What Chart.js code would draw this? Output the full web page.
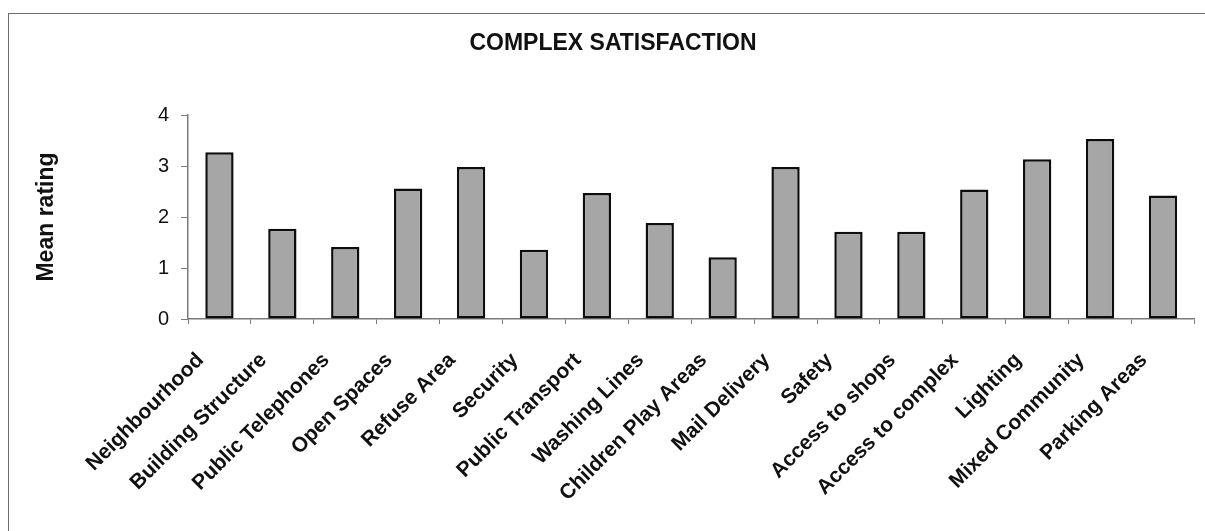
<!DOCTYPE html>
<html>
<head>
<meta charset="utf-8">
<title>Complex Satisfaction</title>
<script src="https://cdn.jsdelivr.net/npm/chart.js@4/dist/chart.umd.min.js"></script>
<style>
  html, body { margin: 0; padding: 0; background: #ffffff; }
  #wrap { position: relative; width: 1205px; height: 531px; overflow: hidden; }
  #frame {
    position: absolute; left: 8px; top: 13px; right: -4px; bottom: -4px;
    border-left: 1.5px solid #6e6e6e; border-top: 1.5px solid #6e6e6e;
  }
  canvas { position: absolute; left: 0; top: 0; }
</style>
</head>
<body>
<div id="wrap">
  <div id="frame"></div>
  <canvas id="chart" width="1205" height="531"></canvas>
</div>
<script>
// Satisfaction items around the housing complex
const categories = [
  'Neighbourhood', 'Building Structure', 'Public Telephones', 'Open Spaces',
  'Refuse Area', 'Security', 'Public Transport', 'Washing Lines',
  'Children Play Areas', 'Mail Delivery', 'Safety', 'Access to shops',
  'Access to complex', 'Lighting', 'Mixed Community', 'Parking Areas'
];

// Mean rating per item
const meanRatings = [
  3.27, 1.77, 1.41, 2.56,
  2.98, 1.36, 2.47, 1.88,
  1.21, 2.98, 1.71, 1.71,
  2.54, 3.13, 3.53, 2.42
];

// Value axis ticks
const yTicks = [0, 1, 2, 3, 4];

const chartTitle = 'COMPLEX SATISFACTION';

const FONT = '"Liberation Sans", Arial, Helvetica, sans-serif';
const INK = '#111111';
const AXIS = '#7a7a7a';

// Heading centred over the framed area rather than the canvas
const headingPlugin = {
  id: 'heading',
  afterDraw(chart) {
    const ctx = chart.ctx;
    ctx.save();
    ctx.fillStyle = INK;
    ctx.font = 'bold 23px ' + FONT;
    ctx.textAlign = 'center';
    ctx.textBaseline = 'middle';
    ctx.fillText(chartTitle, 613, 44);
    ctx.restore();
  }
};

new Chart(document.getElementById('chart'), {
  type: 'bar',
  data: {
    labels: categories,
    datasets: [{
      label: 'Mean rating',
      data: meanRatings,
      backgroundColor: '#a6a6a6',
      borderColor: '#0d0d0d',
      borderWidth: 2.5,
      borderSkipped: false,
      categoryPercentage: 1.0,
      barPercentage: 0.45
    }]
  },
  plugins: [headingPlugin],
  options: {
    responsive: false,
    animation: false,
    devicePixelRatio: 1,
    layout: { padding: { left: 8, right: 7, top: 115, bottom: 0 } },
    plugins: {
      legend: { display: false },
      tooltip: { enabled: false },
      title: { display: false }
    },
    scales: {
      x: {
        offset: true,
        grid: {
          offset: true,
          drawOnChartArea: false,
          drawTicks: true,
          tickLength: 5,
          color: AXIS,
          lineWidth: 1
        },
        border: { display: true, color: AXIS, width: 1.5 },
        ticks: {
          autoSkip: false,
          minRotation: 45,
          maxRotation: 45,
          padding: 24,
          labelOffset: -19,
          color: INK,
          font: { family: FONT, size: 21, weight: 'bold' }
        },
        afterFit(scale) { scale.height = 212; }
      },
      y: {
        min: 0,
        max: 4,
        afterBuildTicks(scale) { scale.ticks = yTicks.map(v => ({ value: v })); },
        grid: {
          drawOnChartArea: false,
          drawTicks: true,
          tickLength: 7,
          color: AXIS,
          lineWidth: 1
        },
        border: { display: true, color: AXIS, width: 1.5 },
        ticks: {
          padding: 12,
          color: INK,
          font: { family: FONT, size: 20 }
        },
        title: {
          display: true,
          text: 'Mean rating',
          color: INK,
          font: { family: FONT, size: 23, weight: 'bold', lineHeight: 1.2 },
          padding: { top: 25, bottom: 0 }
        },
        afterFit(scale) { scale.width = 180; }
      }
    }
  }
});
</script>
</body>
</html>
